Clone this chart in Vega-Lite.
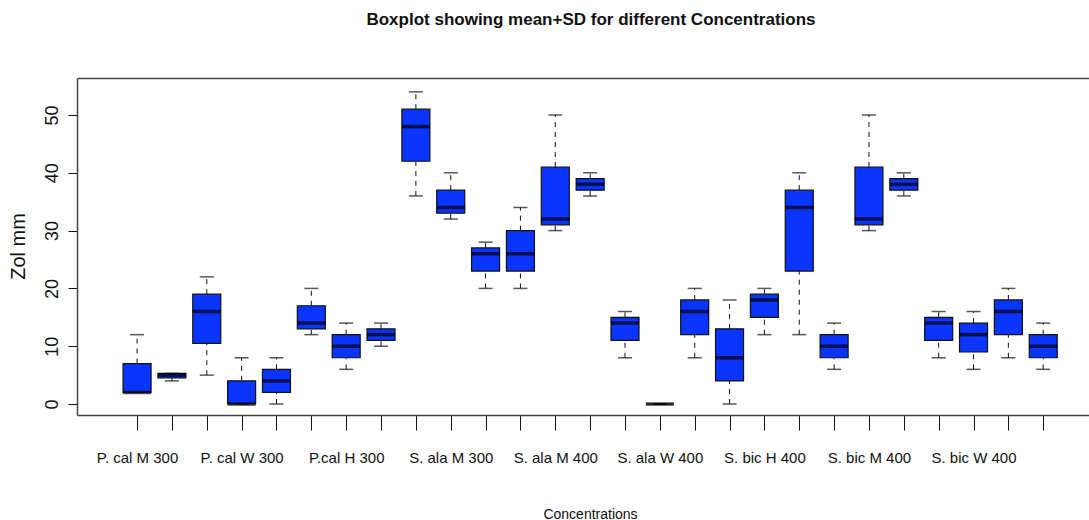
{
  "$schema": "https://vega.github.io/schema/vega-lite/v6.json",
  "autosize": "none",
  "padding": {"left": 77, "top": 78, "right": 0, "bottom": 105},
  "width": 1012,
  "height": 337,
  "background": "white",
  "title": {
    "text": "Boxplot showing mean+SD for different Concentrations",
    "font": "Liberation Sans",
    "fontSize": 17,
    "fontWeight": "bold",
    "color": "#111",
    "anchor": "middle",
    "frame": "group",
    "baseline": "alphabetic",
    "offset": 36,
    "dx": 8
  },
  "config": {
    "view": {"stroke": null},
    "axis": {"grid": false, "domain": true, "domainColor": "#444", "domainWidth": 1.5, "tickColor": "#111", "labelColor": "#111", "titleColor": "#111"}
  },
  "resolve": {"axis": {"x": "independent"}},
  "data": {
    "values": [
      {"pos": 1, "group": "P. cal M 300", "lower": 2, "q1": 2, "median": 2, "q3": 7, "upper": 12},
      {"pos": 2, "group": "P. cal M 300 (2)", "lower": 4, "q1": 4.5, "median": 5, "q3": 5.3, "upper": 5.3},
      {"pos": 3, "group": "P. cal M 300 (3)", "lower": 5, "q1": 10.5, "median": 16, "q3": 19, "upper": 22},
      {"pos": 4, "group": "P. cal W 300", "lower": 0, "q1": 0, "median": 0, "q3": 4, "upper": 8},
      {"pos": 5, "group": "P. cal W 300 (2)", "lower": 0, "q1": 2, "median": 4, "q3": 6, "upper": 8},
      {"pos": 6, "group": "P. cal W 300 (3)", "lower": 12, "q1": 13, "median": 14, "q3": 17, "upper": 20},
      {"pos": 7, "group": "P.cal H 300", "lower": 6, "q1": 8, "median": 10, "q3": 12, "upper": 14},
      {"pos": 8, "group": "P.cal H 300 (2)", "lower": 10, "q1": 11, "median": 12, "q3": 13, "upper": 14},
      {"pos": 9, "group": "P.cal H 300 (3)", "lower": 36, "q1": 42, "median": 48, "q3": 51, "upper": 54},
      {"pos": 10, "group": "S. ala  M 300", "lower": 32, "q1": 33, "median": 34, "q3": 37, "upper": 40},
      {"pos": 11, "group": "S. ala  M 300 (2)", "lower": 20, "q1": 23, "median": 26, "q3": 27, "upper": 28},
      {"pos": 12, "group": "S. ala  M 300 (3)", "lower": 20, "q1": 23, "median": 26, "q3": 30, "upper": 34},
      {"pos": 13, "group": "S. ala M 400", "lower": 30, "q1": 31, "median": 32, "q3": 41, "upper": 50},
      {"pos": 14, "group": "S. ala M 400 (2)", "lower": 36, "q1": 37, "median": 38, "q3": 39, "upper": 40},
      {"pos": 15, "group": "S. ala M 400 (3)", "lower": 8, "q1": 11, "median": 14, "q3": 15, "upper": 16},
      {"pos": 16, "group": "S. ala W 400", "lower": 0, "q1": 0, "median": 0, "q3": 0, "upper": 0},
      {"pos": 17, "group": "S. ala W 400 (2)", "lower": 8, "q1": 12, "median": 16, "q3": 18, "upper": 20},
      {"pos": 18, "group": "S. ala W 400 (3)", "lower": 0, "q1": 4, "median": 8, "q3": 13, "upper": 18},
      {"pos": 19, "group": "S. bic H 400", "lower": 12, "q1": 15, "median": 18, "q3": 19, "upper": 20},
      {"pos": 20, "group": "S. bic H 400 (2)", "lower": 12, "q1": 23, "median": 34, "q3": 37, "upper": 40},
      {"pos": 21, "group": "S. bic H 400 (3)", "lower": 6, "q1": 8, "median": 10, "q3": 12, "upper": 14},
      {"pos": 22, "group": "S. bic M 400", "lower": 30, "q1": 31, "median": 32, "q3": 41, "upper": 50},
      {"pos": 23, "group": "S. bic M 400 (2)", "lower": 36, "q1": 37, "median": 38, "q3": 39, "upper": 40},
      {"pos": 24, "group": "S. bic M 400 (3)", "lower": 8, "q1": 11, "median": 14, "q3": 15, "upper": 16},
      {"pos": 25, "group": "S. bic W 400", "lower": 6, "q1": 9, "median": 12, "q3": 14, "upper": 16},
      {"pos": 26, "group": "S. bic W 400 (2)", "lower": 8, "q1": 12, "median": 16, "q3": 18, "upper": 20},
      {"pos": 27, "group": "S. bic W 400 (3)", "lower": 6, "q1": 8, "median": 10, "q3": 12, "upper": 14}
    ]
  },
  "layer": [
    {
      "mark": {"type": "rule", "strokeDash": [5, 5], "strokeWidth": 1, "color": "#111"},
      "encoding": {
        "x": {
          "field": "pos",
          "type": "quantitative",
          "scale": {"domain": [-0.58, 28.17], "zero": false, "nice": false},
          "axis": {"orient": "top", "labels": false, "ticks": false, "title": null, "domain": true}
        },
        "y": {"field": "lower", "type": "quantitative", "scale": {"domain": [-1.9, 56.4], "zero": false, "nice": false},
          "axis": {
            "title": "Zol mm",
            "values": [0, 10, 20, 30, 40, 50],
            "tickSize": 9,
            "labelAngle": 270,
            "labelAlign": "center",
            "labelBaseline": "middle",
            "labelPadding": 16,
            "labelFont": "Liberation Sans",
            "labelFontSize": 18,
            "titleFont": "Liberation Sans",
            "titleFontSize": 20,
            "titleFontWeight": "normal",
            "titleAngle": 270,
            "titleX": -59,
            "titleY": 168,
            "titleAlign": "center",
            "titleBaseline": "middle"
          }
        },
        "y2": {"field": "q1"}
      }
    },
    {
      "mark": {"type": "rule", "strokeDash": [5, 5], "strokeWidth": 1, "color": "#111"},
      "encoding": {
        "x": {
          "field": "pos",
          "type": "quantitative",
          "axis": {
            "title": "Concentrations",
            "values": [1,2,3,4,5,6,7,8,9,10,11,12,13,14,15,16,17,18,19,20,21,22,23,24,25,26,27],
            "labelExpr": "['P. cal M 300','','','P. cal W 300','','','P.cal H 300','','','S. ala  M 300','','','S. ala M 400','','','S. ala W 400','','','S. bic H 400','','','S. bic M 400','','','S. bic W 400','',''][datum.value - 1]",
            "tickSize": 15,
            "tickWidth": 1,
            "labelFont": "Liberation Sans",
            "labelFontSize": 15,
            "labelBaseline": "middle",
            "labelAlign": "center",
            "labelPadding": 27,
            "labelOverlap": false,
            "labelFlush": false,
            "titleFont": "Liberation Sans",
            "titleFontSize": 14,
            "titleFontWeight": "normal",
            "titleX": 513,
            "titleY": 103,
            "titleAlign": "center",
            "titleBaseline": "alphabetic"
          }
        },
        "y": {"field": "q3", "type": "quantitative"},
        "y2": {"field": "upper"}
      }
    },
    {
      "mark": {"type": "tick", "orient": "horizontal", "size": 14, "thickness": 1.5, "color": "#111"},
      "encoding": {
        "x": {"field": "pos", "type": "quantitative", "axis": null},
        "y": {"field": "lower", "type": "quantitative"}
      }
    },
    {
      "mark": {"type": "tick", "orient": "horizontal", "size": 14, "thickness": 1.5, "color": "#111"},
      "encoding": {
        "x": {"field": "pos", "type": "quantitative", "axis": null},
        "y": {"field": "upper", "type": "quantitative"}
      }
    },
    {
      "mark": {"type": "bar", "width": 28, "fill": "#0a35ff", "stroke": "#111", "strokeWidth": 1.2},
      "encoding": {
        "x": {"field": "pos", "type": "quantitative", "axis": null},
        "y": {"field": "q1", "type": "quantitative"},
        "y2": {"field": "q3"}
      }
    },
    {
      "mark": {"type": "tick", "orient": "horizontal", "size": 28, "thickness": 3.5, "color": "#000"},
      "encoding": {
        "x": {"field": "pos", "type": "quantitative", "axis": null},
        "y": {"field": "median", "type": "quantitative"}
      }
    }
  ]
}
